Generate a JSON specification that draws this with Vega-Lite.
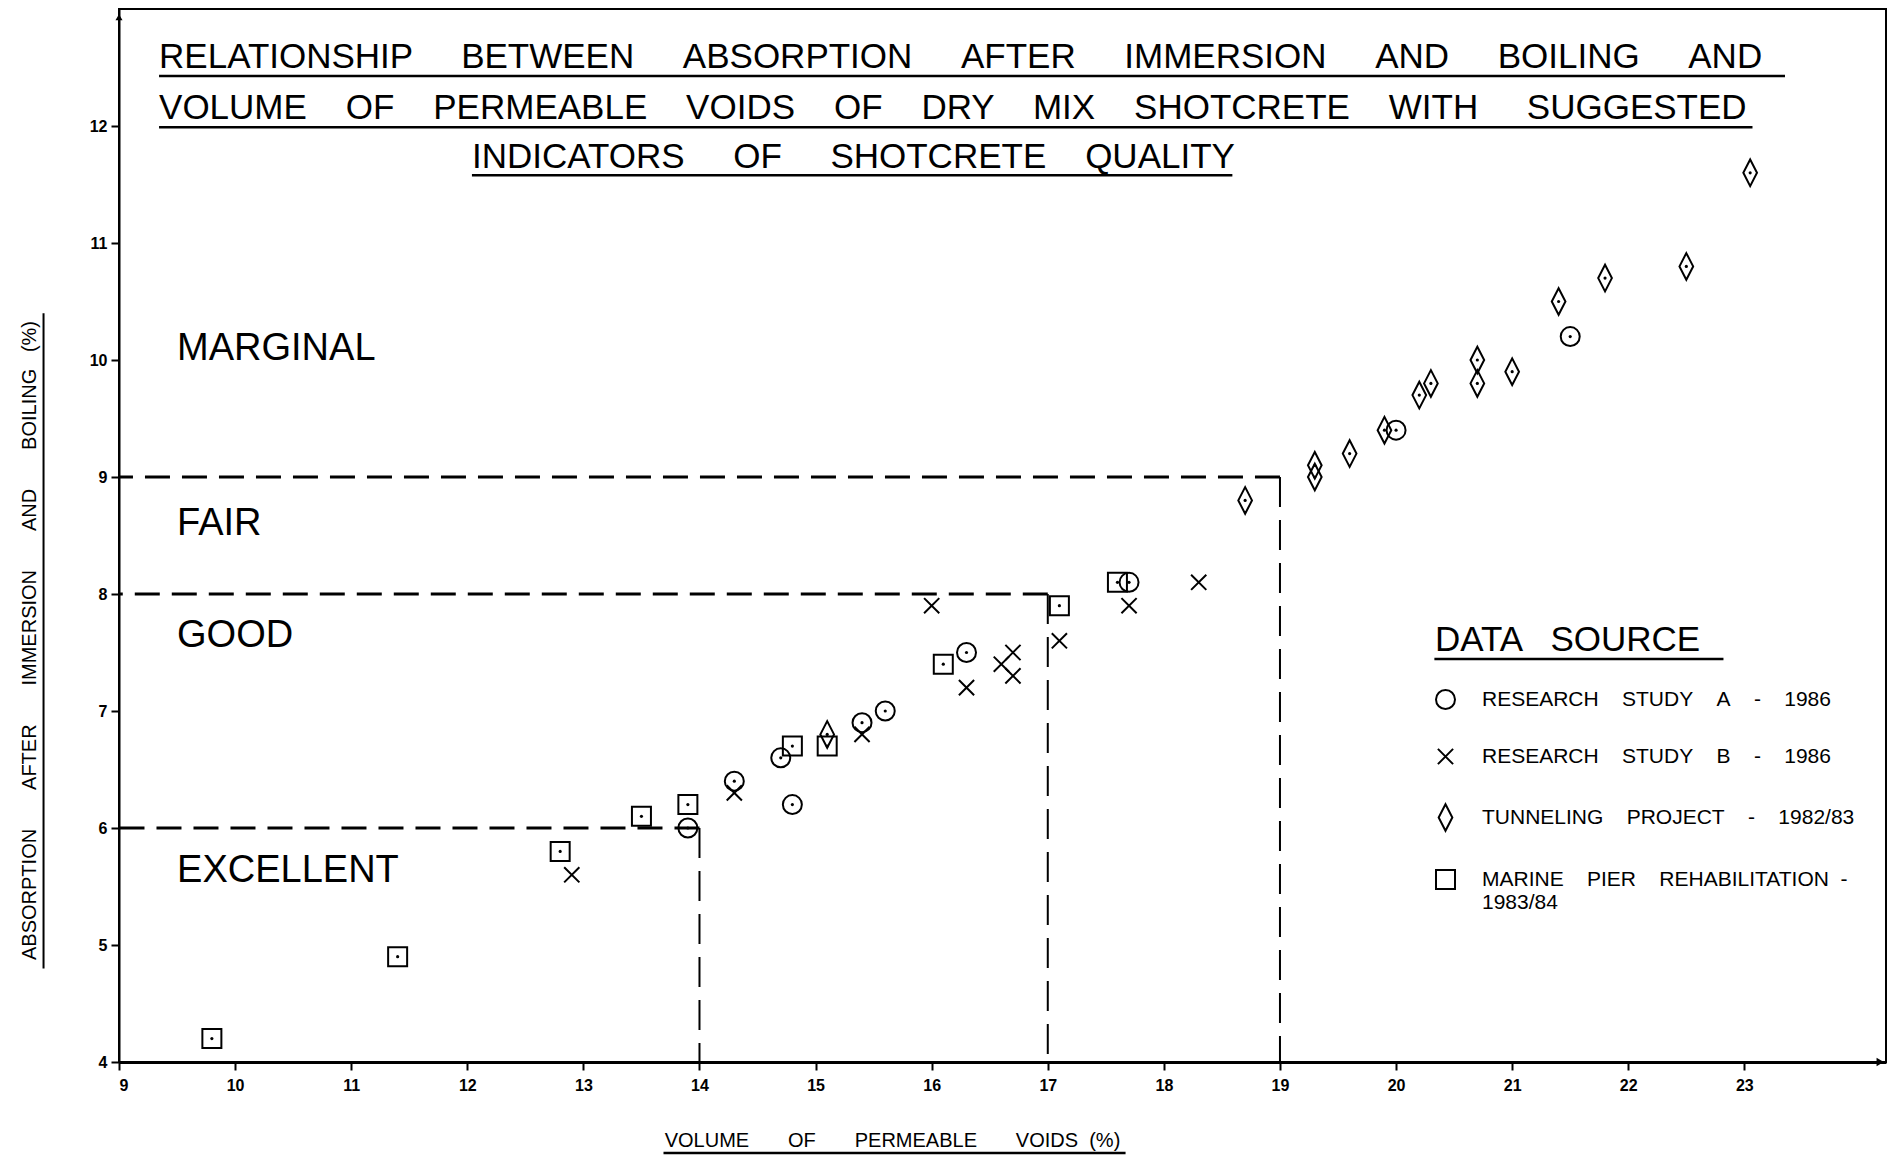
{
  "$schema": "https://vega.github.io/schema/vega-lite/v6.json",
  "width": 1767,
  "height": 1053,
  "autosize": {"type": "none"},
  "padding": {"left": 119, "top": 9, "right": 4, "bottom": 96},
  "background": "white",
  "config": {
    "view": {"stroke": "black", "strokeWidth": 2},
    "font": "Liberation Sans"
  },
  "datasets": {
    "points": [
      {"source": "RESEARCH STUDY A - 1986", "voids": 13.9, "absorption": 6.0},
      {"source": "RESEARCH STUDY A - 1986", "voids": 14.3, "absorption": 6.4},
      {"source": "RESEARCH STUDY A - 1986", "voids": 14.7, "absorption": 6.6},
      {"source": "RESEARCH STUDY A - 1986", "voids": 14.8, "absorption": 6.2},
      {"source": "RESEARCH STUDY A - 1986", "voids": 15.4, "absorption": 6.9},
      {"source": "RESEARCH STUDY A - 1986", "voids": 15.6, "absorption": 7.0},
      {"source": "RESEARCH STUDY A - 1986", "voids": 16.3, "absorption": 7.5},
      {"source": "RESEARCH STUDY A - 1986", "voids": 17.7, "absorption": 8.1},
      {"source": "RESEARCH STUDY A - 1986", "voids": 20.0, "absorption": 9.4},
      {"source": "RESEARCH STUDY A - 1986", "voids": 21.5, "absorption": 10.2},
      {"source": "RESEARCH STUDY B - 1986", "voids": 12.9, "absorption": 5.6},
      {"source": "RESEARCH STUDY B - 1986", "voids": 14.3, "absorption": 6.3},
      {"source": "RESEARCH STUDY B - 1986", "voids": 15.4, "absorption": 6.8},
      {"source": "RESEARCH STUDY B - 1986", "voids": 16.0, "absorption": 7.9},
      {"source": "RESEARCH STUDY B - 1986", "voids": 16.3, "absorption": 7.2},
      {"source": "RESEARCH STUDY B - 1986", "voids": 16.6, "absorption": 7.4},
      {"source": "RESEARCH STUDY B - 1986", "voids": 16.7, "absorption": 7.5},
      {"source": "RESEARCH STUDY B - 1986", "voids": 16.7, "absorption": 7.3},
      {"source": "RESEARCH STUDY B - 1986", "voids": 17.1, "absorption": 7.6},
      {"source": "RESEARCH STUDY B - 1986", "voids": 17.7, "absorption": 7.9},
      {"source": "RESEARCH STUDY B - 1986", "voids": 18.3, "absorption": 8.1},
      {"source": "TUNNELING PROJECT - 1982/83", "voids": 15.1, "absorption": 6.8},
      {"source": "TUNNELING PROJECT - 1982/83", "voids": 18.7, "absorption": 8.8},
      {"source": "TUNNELING PROJECT - 1982/83", "voids": 19.3, "absorption": 9.0},
      {"source": "TUNNELING PROJECT - 1982/83", "voids": 19.3, "absorption": 9.1},
      {"source": "TUNNELING PROJECT - 1982/83", "voids": 19.6, "absorption": 9.2},
      {"source": "TUNNELING PROJECT - 1982/83", "voids": 19.9, "absorption": 9.4},
      {"source": "TUNNELING PROJECT - 1982/83", "voids": 20.2, "absorption": 9.7},
      {"source": "TUNNELING PROJECT - 1982/83", "voids": 20.3, "absorption": 9.8},
      {"source": "TUNNELING PROJECT - 1982/83", "voids": 20.7, "absorption": 9.8},
      {"source": "TUNNELING PROJECT - 1982/83", "voids": 20.7, "absorption": 10.0},
      {"source": "TUNNELING PROJECT - 1982/83", "voids": 21.0, "absorption": 9.9},
      {"source": "TUNNELING PROJECT - 1982/83", "voids": 21.4, "absorption": 10.5},
      {"source": "TUNNELING PROJECT - 1982/83", "voids": 21.8, "absorption": 10.7},
      {"source": "TUNNELING PROJECT - 1982/83", "voids": 22.5, "absorption": 10.8},
      {"source": "TUNNELING PROJECT - 1982/83", "voids": 23.05, "absorption": 11.6},
      {"source": "MARINE PIER REHABILITATION - 1983/84", "voids": 9.8, "absorption": 4.2},
      {"source": "MARINE PIER REHABILITATION - 1983/84", "voids": 11.4, "absorption": 4.9},
      {"source": "MARINE PIER REHABILITATION - 1983/84", "voids": 12.8, "absorption": 5.8},
      {"source": "MARINE PIER REHABILITATION - 1983/84", "voids": 13.5, "absorption": 6.1},
      {"source": "MARINE PIER REHABILITATION - 1983/84", "voids": 13.9, "absorption": 6.2},
      {"source": "MARINE PIER REHABILITATION - 1983/84", "voids": 14.8, "absorption": 6.7},
      {"source": "MARINE PIER REHABILITATION - 1983/84", "voids": 15.1, "absorption": 6.7},
      {"source": "MARINE PIER REHABILITATION - 1983/84", "voids": 16.1, "absorption": 7.4},
      {"source": "MARINE PIER REHABILITATION - 1983/84", "voids": 17.1, "absorption": 7.9},
      {"source": "MARINE PIER REHABILITATION - 1983/84", "voids": 17.6, "absorption": 8.1}
    ],
    "thresholds": [
      {"quality": "EXCELLENT", "voids": 14, "absorption": 6},
      {"quality": "GOOD", "voids": 17, "absorption": 8},
      {"quality": "FAIR", "voids": 19, "absorption": 9}
    ],
    "labels": [
      {"text": "MARGINAL", "voids": 9.5, "absorption": 10.09},
      {"text": "FAIR", "voids": 9.5, "absorption": 8.6},
      {"text": "GOOD", "voids": 9.5, "absorption": 7.64},
      {"text": "EXCELLENT", "voids": 9.5, "absorption": 5.63}
    ],
    "titleLines": [
      {"text": "RELATIONSHIP \u00a0\u00a0\u00a0\u00a0BETWEEN \u00a0\u00a0\u00a0\u00a0ABSORPTION \u00a0\u00a0\u00a0\u00a0AFTER \u00a0\u00a0\u00a0\u00a0IMMERSION \u00a0\u00a0\u00a0\u00a0AND \u00a0\u00a0\u00a0\u00a0BOILING \u00a0\u00a0\u00a0\u00a0AND", "voids": 9.345, "absorption": 12.496},
      {"text": "VOLUME \u00a0\u00a0\u00a0OF \u00a0\u00a0\u00a0PERMEABLE \u00a0\u00a0\u00a0VOIDS \u00a0\u00a0\u00a0OF \u00a0\u00a0\u00a0DRY \u00a0\u00a0\u00a0MIX \u00a0\u00a0\u00a0SHOTCRETE \u00a0\u00a0\u00a0WITH \u00a0\u00a0\u00a0\u00a0SUGGESTED", "voids": 9.345, "absorption": 12.06},
      {"text": "INDICATORS \u00a0\u00a0\u00a0\u00a0OF \u00a0\u00a0\u00a0\u00a0SHOTCRETE \u00a0\u00a0\u00a0QUALITY", "voids": 12.04, "absorption": 11.64}
    ],
    "underlines": [
      {"part": "title line 1", "from": 9.345, "to": 23.35, "absorption": 12.427},
      {"part": "title line 2", "from": 9.345, "to": 23.07, "absorption": 11.99},
      {"part": "title line 3", "from": 12.04, "to": 18.59, "absorption": 11.58},
      {"part": "legend title", "from": 20.33, "to": 22.82, "absorption": 7.444},
      {"part": "x axis title", "from": 13.69, "to": 17.67, "absorption": 3.222}
    ],
    "vUnderlines": [
      {"part": "y axis title", "voids": 8.35, "from": 4.8, "to": 10.4}
    ],
    "arrowX": [{"part": "x axis arrow", "voids": 24.17, "absorption": 4}],
    "arrowY": [{"part": "y axis arrow", "voids": 9, "absorption": 12.93}]
  },
  "layer": [
    {
      "data": {"name": "thresholds"},
      "mark": {"type": "rule", "color": "black", "strokeWidth": 3, "strokeDash": [25, 12]},
      "encoding": {
        "x": {"field": "voids", "type": "quantitative", "scale": {"domain": [9, 24.22], "nice": false, "zero": false}},
        "x2": {"datum": 9},
        "y": {"field": "absorption", "type": "quantitative", "scale": {"domain": [4, 13], "nice": false, "zero": false}}
      }
    },
    {
      "data": {"name": "thresholds"},
      "mark": {"type": "rule", "color": "black", "strokeWidth": 2, "strokeDash": [30, 13]},
      "encoding": {
        "x": {"field": "voids", "type": "quantitative", "scale": {"domain": [9, 24.22], "nice": false, "zero": false}},
        "y": {"field": "absorption", "type": "quantitative", "scale": {"domain": [4, 13], "nice": false, "zero": false}},
        "y2": {"datum": 4}
      }
    },
    {
      "data": {"name": "points"},
      "mark": {"type": "point", "filled": false, "color": "black", "strokeWidth": 2, "size": 361, "opacity": 1},
      "encoding": {
        "x": {
          "field": "voids",
          "type": "quantitative",
          "scale": {"domain": [9, 24.22], "nice": false, "zero": false},
          "axis": {
            "title": "VOLUME \u00a0\u00a0\u00a0\u00a0\u00a0\u00a0OF \u00a0\u00a0\u00a0\u00a0\u00a0\u00a0PERMEABLE \u00a0\u00a0\u00a0\u00a0\u00a0\u00a0VOIDS \u00a0(%)",
            "values": [9, 10, 11, 12, 13, 14, 15, 16, 17, 18, 19, 20, 21, 22, 23],
            "format": "d",
            "grid": false,
            "domainColor": "black",
            "domainWidth": 3,
            "tickColor": "black",
            "tickWidth": 2,
            "tickSize": 8,
            "labelPadding": 7,
            "labelFont": "Liberation Sans",
            "labelFontWeight": "bold",
            "labelFontSize": 16,
            "labelColor": "black",
            "titleFont": "Liberation Sans",
            "titleFontSize": 20,
            "titleFontWeight": "normal",
            "titleColor": "black",
            "titleX": 773,
            "titleY": 68
          }
        },
        "y": {
          "field": "absorption",
          "type": "quantitative",
          "scale": {"domain": [4, 13], "nice": false, "zero": false},
          "axis": {
            "title": "ABSORPTION \u00a0\u00a0\u00a0\u00a0\u00a0\u00a0AFTER \u00a0\u00a0\u00a0\u00a0\u00a0\u00a0IMMERSION \u00a0\u00a0\u00a0\u00a0\u00a0\u00a0AND \u00a0\u00a0\u00a0\u00a0\u00a0\u00a0BOILING \u00a0\u00a0(%)",
            "values": [4, 5, 6, 7, 8, 9, 10, 11, 12],
            "format": "d",
            "grid": false,
            "domainColor": "black",
            "domainWidth": 2,
            "tickColor": "black",
            "tickWidth": 2,
            "tickSize": 8,
            "labelPadding": 4,
            "labelFont": "Liberation Sans",
            "labelFontWeight": "bold",
            "labelFontSize": 16,
            "labelColor": "black",
            "titleFont": "Liberation Sans",
            "titleFontSize": 20,
            "titleFontWeight": "normal",
            "titleColor": "black",
            "titleX": -80,
            "titleY": 631
          }
        },
        "shape": {
          "field": "source",
          "type": "nominal",
          "scale": {
            "domain": ["RESEARCH STUDY A - 1986", "RESEARCH STUDY B - 1986", "TUNNELING PROJECT - 1982/83", "MARINE PIER REHABILITATION - 1983/84"],
            "range": ["circle", "M-0.8,-0.8L0.8,0.8M-0.8,0.8L0.8,-0.8", "M0,-1.4L0.72,0L0,1.4L-0.72,0Z", "square"]
          },
          "legend": {
            "orient": "none",
            "legendX": 1316,
            "legendY": 614,
            "padding": 0,
            "title": "DATA \u00a0\u00a0SOURCE",
            "titleFont": "Liberation Sans",
            "titleFontSize": 35,
            "titleFontWeight": "normal",
            "titleColor": "black",
            "titleLimit": 500,
            "titlePadding": 31,
            "labelFont": "Liberation Sans",
            "labelFontSize": 21,
            "labelColor": "black",
            "labelOffset": 26,
            "labelLimit": 600,
            "rowPadding": 31,
            "symbolSize": 361,
            "symbolStrokeWidth": 2,
            "symbolStrokeColor": "black",
            "labelExpr": "datum.label === 'MARINE PIER REHABILITATION - 1983/84' ? ['MARINE\u00a0\u00a0\u00a0\u00a0PIER\u00a0\u00a0\u00a0\u00a0REHABILITATION\u00a0\u00a0-', '1983/84'] : replace(datum.label, regexp(' ', 'g'), '\u00a0\u00a0\u00a0\u00a0')"
          }
        }
      }
    },
    {
      "data": {"name": "points"},
      "transform": [{"filter": "datum.source !== 'RESEARCH STUDY B - 1986'"}],
      "mark": {"type": "circle", "color": "black", "size": 10, "opacity": 1},
      "encoding": {
        "x": {"field": "voids", "type": "quantitative", "scale": {"domain": [9, 24.22], "nice": false, "zero": false}},
        "y": {"field": "absorption", "type": "quantitative", "scale": {"domain": [4, 13], "nice": false, "zero": false}}
      }
    },
    {
      "data": {"name": "labels"},
      "mark": {"type": "text", "align": "left", "baseline": "middle", "fontSize": 38, "font": "Liberation Sans", "color": "black"},
      "encoding": {
        "x": {"field": "voids", "type": "quantitative", "scale": {"domain": [9, 24.22], "nice": false, "zero": false}},
        "y": {"field": "absorption", "type": "quantitative", "scale": {"domain": [4, 13], "nice": false, "zero": false}},
        "text": {"field": "text", "type": "nominal"}
      }
    },
    {
      "data": {"name": "titleLines"},
      "mark": {"type": "text", "align": "left", "baseline": "alphabetic", "fontSize": 35, "font": "Liberation Sans", "color": "black"},
      "encoding": {
        "x": {"field": "voids", "type": "quantitative", "scale": {"domain": [9, 24.22], "nice": false, "zero": false}},
        "y": {"field": "absorption", "type": "quantitative", "scale": {"domain": [4, 13], "nice": false, "zero": false}},
        "text": {"field": "text", "type": "nominal"}
      }
    },
    {
      "data": {"name": "underlines"},
      "mark": {"type": "rule", "color": "black", "strokeWidth": 2.5},
      "encoding": {
        "x": {"field": "from", "type": "quantitative", "scale": {"domain": [9, 24.22], "nice": false, "zero": false}},
        "x2": {"field": "to"},
        "y": {"field": "absorption", "type": "quantitative", "scale": {"domain": [4, 13], "nice": false, "zero": false}}
      }
    },
    {
      "data": {"name": "vUnderlines"},
      "mark": {"type": "rule", "color": "black", "strokeWidth": 2},
      "encoding": {
        "x": {"field": "voids", "type": "quantitative", "scale": {"domain": [9, 24.22], "nice": false, "zero": false}},
        "y": {"field": "from", "type": "quantitative", "scale": {"domain": [4, 13], "nice": false, "zero": false}},
        "y2": {"field": "to"}
      }
    },
    {
      "data": {"name": "arrowX"},
      "mark": {"type": "point", "shape": "triangle-right", "filled": true, "color": "black", "size": 70, "opacity": 1},
      "encoding": {
        "x": {"field": "voids", "type": "quantitative", "scale": {"domain": [9, 24.22], "nice": false, "zero": false}},
        "y": {"field": "absorption", "type": "quantitative", "scale": {"domain": [4, 13], "nice": false, "zero": false}}
      }
    },
    {
      "data": {"name": "arrowY"},
      "mark": {"type": "point", "shape": "triangle-up", "filled": true, "color": "black", "size": 50, "opacity": 1},
      "encoding": {
        "x": {"field": "voids", "type": "quantitative", "scale": {"domain": [9, 24.22], "nice": false, "zero": false}},
        "y": {"field": "absorption", "type": "quantitative", "scale": {"domain": [4, 13], "nice": false, "zero": false}}
      }
    }
  ]
}
